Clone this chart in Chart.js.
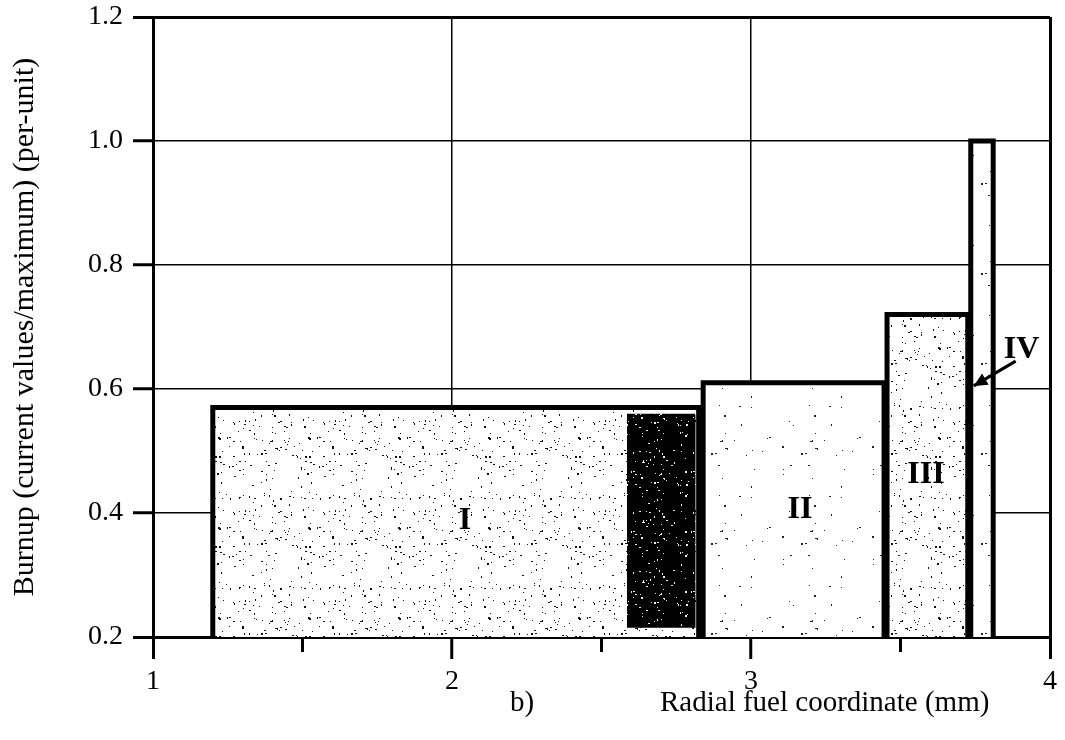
<!DOCTYPE html>
<html>
<head>
<meta charset="utf-8">
<script src="https://cdn.jsdelivr.net/npm/chart.js@4/dist/chart.umd.min.js"></script>
<style>
  body { margin: 0; background: #fff; }
</style>
</head>
<body>
<canvas id="burnup" width="1065" height="740"></canvas>
<script>
// axis ranges / ticks
const xMin = 1, xMax = 4, xStep = 0.5;
const yMin = 0.2, yMax = 1.2, yStep = 0.2;

// fuel zones
const zoneNames = ['I', 'II', 'III', 'IV'];
const zoneFrom = [1.20, 2.84, 3.455, 3.735];
const zoneTo = [2.825, 3.445, 3.725, 3.81];
const zoneBurnup = [0.57, 0.61, 0.72, 1.00];

// dark shaded band inside zone I
const darkFrom = 2.585, darkTo = 2.815, darkTop = 0.56, darkBottom = 0.215;

const serif = "'Liberation Serif', 'DejaVu Serif', serif";

// speckle texture (just a fill style, not data)
function speckle(size, count, bg, fg) {
    const c = document.createElement('canvas');
    c.width = size; c.height = size;
    const g = c.getContext('2d');
    g.fillStyle = bg;
    g.fillRect(0, 0, size, size);
    g.fillStyle = fg;
    for (let i = 0; i < count; i++) {
        const h1 = Math.sin(i * 12.9898 + 1.3) * 43758.5453;
        const h2 = Math.sin(i * 78.233 + 4.1) * 24634.6345;
        const px = Math.floor((h1 - Math.floor(h1)) * size);
        const py = Math.floor((h2 - Math.floor(h2)) * size);
        g.fillRect(px, py, (i % 3 === 0) ? 2 : 1, (i % 4 === 0) ? 2 : 1);
    }
    return g.createPattern(c, 'repeat');
}

const ctx = document.getElementById('burnup');
const denseDots = speckle(90, 130, '#fff', '#111');
const sparseDots = speckle(90, 28, '#fff', '#222');
const darkDots = speckle(60, 70, '#000', '#eee');
const zoneFill = [denseDots, sparseDots, denseDots, sparseDots];

function rect(x0, x1, y0, y1) {
    return [{x: x0, y: y0}, {x: x0, y: y1}, {x: x1, y: y1}, {x: x1, y: y0}];
}

const datasets = [{
    label: 'dark',
    data: rect(darkFrom, darkTo, darkBottom, darkTop),
    backgroundColor: darkDots,
    borderWidth: 0,
    fill: {target: {value: darkBottom}},
    pointRadius: 0,
    order: 0
}];
zoneNames.forEach((n, i) => {
    datasets.push({
        label: n,
        data: rect(zoneFrom[i], zoneTo[i], yMin, zoneBurnup[i]),
        borderColor: '#000',
        borderWidth: 5,
        borderJoinStyle: 'miter',
        backgroundColor: zoneFill[i],
        fill: 'start',
        pointRadius: 0,
        order: i + 1
    });
});

// zone labels and arrow
const labelPos = {I: [2.043, 0.387], II: [3.164, 0.405], III: [3.585, 0.461], IV: [3.905, 0.663]};
const arrowFrom = [3.885, 0.645], arrowTo = [3.745, 0.605];

const isMajor = v => Number.isInteger(v);

const annotate = {
    id: 'annotate',
    afterDatasetsDraw(chart) {
        const c = chart.ctx, xs = chart.scales.x, ys = chart.scales.y;
        c.save();
        // minor x ticks (shorter than the major ones)
        c.strokeStyle = '#000';
        c.lineWidth = 3;
        xs.ticks.forEach(t => {
            if (isMajor(t.value)) return;
            const px = xs.getPixelForValue(t.value);
            c.beginPath();
            c.moveTo(px, chart.chartArea.bottom);
            c.lineTo(px, chart.chartArea.bottom + 15);
            c.stroke();
        });
        c.fillStyle = '#000';
        c.textAlign = 'center';
        c.textBaseline = 'middle';
        c.font = 'bold 32px ' + serif;
        zoneNames.forEach(n => {
            const p = labelPos[n];
            c.fillText(n, xs.getPixelForValue(p[0]), ys.getPixelForValue(p[1]));
        });
        // arrow
        const ax = xs.getPixelForValue(arrowFrom[0]), ay = ys.getPixelForValue(arrowFrom[1]);
        const bx = xs.getPixelForValue(arrowTo[0]), by = ys.getPixelForValue(arrowTo[1]);
        c.beginPath();
        c.moveTo(ax, ay);
        c.lineTo(bx, by);
        c.stroke();
        const ang = Math.atan2(by - ay, bx - ax);
        c.beginPath();
        c.moveTo(bx, by);
        c.lineTo(bx - 15 * Math.cos(ang - 0.45), by - 15 * Math.sin(ang - 0.45));
        c.lineTo(bx - 15 * Math.cos(ang + 0.45), by - 15 * Math.sin(ang + 0.45));
        c.closePath();
        c.fill();
        // x title and panel letter
        c.font = '29px ' + serif;
        c.textAlign = 'left';
        c.fillText('b)', 510, 703);
        c.fillText('Radial fuel coordinate (mm)', 660, 703);
        c.restore();
    }
};

new Chart(ctx, {
    type: 'line',
    data: {datasets: datasets},
    options: {
        responsive: false,
        animation: false,
        layout: {padding: {top: 17, right: 15, left: 0, bottom: 0}},
        plugins: {
            legend: {display: false},
            tooltip: {enabled: false}
        },
        scales: {
            x: {
                type: 'linear',
                min: xMin,
                max: xMax,
                afterFit(s) {
                    s.height = 103;
                    s.paddingLeft = 0;
                    s.paddingRight = 0;
                },
                ticks: {
                    stepSize: xStep,
                    color: '#000',
                    font: {family: serif, size: 28},
                    padding: 6,
                    maxRotation: 0,
                    callback: v => isMajor(v) ? String(v) : ''
                },
                grid: {
                    color: c => isMajor(c.tick.value) ? '#000' : 'rgba(0,0,0,0)',
                    lineWidth: c => (c.tick.value === xMax || c.tick.value === xMin) ? 3 : 1.5,
                    tickColor: c => isMajor(c.tick.value) ? '#000' : 'rgba(0,0,0,0)',
                    tickWidth: 3,
                    tickLength: 22
                },
                border: {color: '#000', width: 3}
            },
            y: {
                min: yMin,
                max: yMax,
                afterFit(s) {
                    s.width = 153;
                    s.paddingTop = 0;
                    s.paddingBottom = 0;
                },
                title: {
                    display: true,
                    text: 'Burnup (current values/maximum) (per-unit)',
                    color: '#000',
                    font: {family: serif, size: 30},
                    padding: {top: 7, bottom: 0}
                },
                ticks: {
                    stepSize: yStep,
                    color: '#000',
                    font: {family: serif, size: 28},
                    padding: 10,
                    callback: v => v.toFixed(1)
                },
                grid: {
                    color: '#000',
                    lineWidth: c => (c.tick.value === yMax || c.tick.value === yMin) ? 3 : 1.5,
                    tickColor: '#000',
                    tickWidth: 3,
                    tickLength: 20
                },
                border: {color: '#000', width: 3}
            }
        }
    },
    plugins: [annotate]
});
</script>
</body>
</html>
